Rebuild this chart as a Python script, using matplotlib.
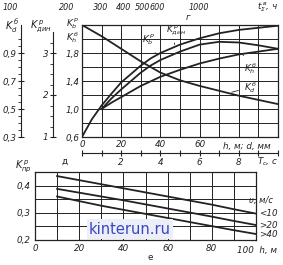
import matplotlib
matplotlib.use("Agg")
import matplotlib.pyplot as plt
from matplotlib.ticker import NullLocator
from matplotlib import font_manager

####> DATA <####
# panel "г": coefficients vs depth h (m) / diameter d (mm)
h_kd = [0, 10, 20, 30, 40, 50, 60, 70, 80, 90, 100]
kd_b = [1.10, 1.02, 0.93, 0.84, 0.76, 0.705, 0.665, 0.63, 0.595, 0.565, 0.535]          # K_d^б (left scale)

h_kdyn = [0, 5, 10, 15, 20, 25, 30, 35, 40, 50, 60, 70, 80, 90, 100]
kdyn_p = [1.0, 1.42, 1.75, 2.03, 2.3, 2.5, 2.7, 2.87, 3.0, 3.2, 3.35, 3.47, 3.55, 3.6, 3.65]  # K_дин^р

h_kb = [10, 15, 20, 25, 30, 35, 40, 50, 60, 70, 80, 90, 100]
kb_p = [1.0, 1.15, 1.28, 1.40, 1.52, 1.62, 1.70, 1.82, 1.92, 1.96, 1.95, 1.91, 1.86]        # K_b^р

h_kh = [10, 15, 20, 30, 40, 50, 60, 70, 80, 90, 100]
kh_b = [1.0, 1.09, 1.17, 1.33, 1.46, 1.56, 1.65, 1.72, 1.78, 1.82, 1.86]                   # K_h^б

# top scale, t_Σ^в, hours
t_ticks = [100, 200, 300, 400, 500, 600, 1000]

# panel "е": K_пр^р vs h for wind speeds
h_pr = [10, 20, 30, 40, 50, 60, 70, 80, 90, 100]
kpr_lt10 = [0.435, 0.420, 0.405, 0.39, 0.375, 0.36, 0.345, 0.33, 0.313, 0.297]
kpr_gt20 = [0.388, 0.374, 0.36, 0.346, 0.331, 0.316, 0.301, 0.286, 0.27, 0.255]
kpr_gt40 = [0.36, 0.343, 0.326, 0.311, 0.296, 0.281, 0.266, 0.251, 0.236, 0.222]
v_labels = ["<10", ">20", ">40"]

####> STYLE <####
W, H = 283, 265
INK = "#222222"
FS = 6.3
names = {f.name for f in font_manager.fontManager.ttflist}
fam = ["Liberation Sans Narrow", "DejaVu Sans"] if "Liberation Sans Narrow" in names else ["DejaVu Sans"]
plt.rcParams["font.family"] = fam
plt.rcParams["font.style"] = "italic"
plt.rcParams["font.size"] = FS
plt.rcParams["mathtext.fontset"] = "dejavusans"
plt.rcParams["text.color"] = INK
plt.rcParams["xtick.color"] = INK
plt.rcParams["ytick.color"] = INK


def box(l, t, r, b):
    return [l / W, (H - b) / H, (r - l) / W, (b - t) / H]


def comma(v):
    return ("%.1f" % v).replace(".", ",")


fig = plt.figure(figsize=(W / 100, H / 100), dpi=100)
fig.patch.set_facecolor("white")

####> PANEL г <####
ax1 = fig.add_axes(box(82, 25, 278, 137))
ax1.set_xlim(0, 100)
ax1.set_ylim(0.6, 2.2)
ax1.set_xticks(range(0, 101, 10))
ax1.set_xticklabels(["0", "", "20", "", "40", "", "60", "", "", "", ""])
yt = [0.6 + 0.2 * i for i in range(9)]
ax1.set_yticks(yt)
ax1.set_yticklabels([comma(v) if i % 2 == 0 and v < 2.0 else "" for i, v in enumerate(yt)])
ax1.tick_params(length=0, pad=2, labelsize=FS)
ax1.grid(True, color=INK, lw=0.7)
for s in ax1.spines.values():
    s.set_color(INK)
    s.set_linewidth(0.9)

ax1.plot(h_kb, kb_p, color=INK, lw=1.3)
ax1.plot(h_kh, kh_b, color=INK, lw=1.3)

# K_d^б scale on the far left
axd = ax1.twinx()
axd.set_ylim(0.3, 1.1)
for k in ["top", "right", "bottom"]:
    axd.spines[k].set_visible(False)
axd.spines["left"].set_visible(True)
axd.spines["left"].set_position(("axes", -0.31))
axd.spines["left"].set_color(INK)
axd.yaxis.tick_left()
axd.set_yticks([0.3, 0.5, 0.7, 0.9])
axd.set_yticklabels(["0,3", "0,5", "0,7", "0,9"])
axd.set_yticks([0.35, 0.4, 0.45, 0.55, 0.6, 0.65, 0.75, 0.8, 0.85, 0.95, 1.0], minor=True)
axd.tick_params(which="major", direction="inout", length=5, pad=1, labelsize=FS)
axd.tick_params(which="minor", direction="out", length=2)
axd.plot(h_kd, kd_b, color=INK, lw=1.3, clip_on=True)

# K_дин^р scale
axv = ax1.twinx()
axv.set_ylim(1.0, 1.0 + 1.6 / 0.6)
for k in ["top", "right", "bottom"]:
    axv.spines[k].set_visible(False)
axv.spines["left"].set_visible(True)
axv.spines["left"].set_position(("axes", -0.148))
axv.spines["left"].set_bounds(1.0, 3.5)
axv.spines["left"].set_color(INK)
axv.yaxis.tick_left()
axv.set_yticks([1, 2, 3])
axv.set_yticklabels(["1", "2", "3"])
axv.set_yticks([1.25, 1.5, 1.75, 2.25, 2.5, 2.75, 3.25], minor=True)
axv.tick_params(which="major", direction="inout", length=5, pad=1, labelsize=FS)
axv.tick_params(which="minor", direction="out", length=2)
axv.plot(h_kdyn, kdyn_p, color=INK, lw=1.3)

# T_c scale under panel г
sec = ax1.secondary_xaxis(-0.143, functions=(lambda x: x / 10, lambda x: x * 10))
sec.set_xticks(range(0, 11))
sec.set_xticklabels(["", "", "2", "", "4", "", "6", "", "8", "", ""])
sec.tick_params(direction="inout", length=5, pad=1, labelsize=FS)
sec.spines["bottom"].set_color(INK)

# top log scale of hours
axt = fig.add_axes(box(0, 13, W, 14))
axt.set_xscale("log")
axt.set_xlim(88.5, 2780)
axt.set_xticks(t_ticks)
axt.set_xticklabels([str(t) for t in t_ticks])
axt.xaxis.set_minor_locator(NullLocator())
axt.set_yticks([])
axt.tick_params(top=True, labeltop=True, bottom=False, labelbottom=False, length=0, pad=1, labelsize=5.8)
for s in axt.spines.values():
    s.set_visible(False)
axt.patch.set_alpha(0)

# texts of panel г
fig.text(268 / W, 1 - 7 / H, r"$t^{\,в}_{\Sigma}$, ч", ha="center", va="center", fontsize=FS)
fig.text(188 / W, 1 - 17 / H, "г", ha="center", va="center", fontsize=FS)
fig.text(12 / W, 1 - 26 / H, r"$K^{\,б}_{d}$", ha="center", va="center", fontsize=7)
fig.text(41 / W, 1 - 26 / H, r"$K^{\,р}_{дин}$", ha="center", va="center", fontsize=7)
fig.text(73 / W, 1 - 24 / H, r"$K^{\,р}_{b}$", ha="center", va="center", fontsize=6.5)
fig.text(73 / W, 1 - 38 / H, r"$K^{\,б}_{h}$", ha="center", va="center", fontsize=6.5)
fig.text(247 / W, 1 - 146 / H, "h, м; d, мм", ha="center", va="center", fontsize=FS)
fig.text(268 / W, 1 - 162 / H, r"$T_c$, c", ha="center", va="center", fontsize=FS)

ax1.annotate(r"$K^{\,р}_{b}$", xy=(38, 1.77), xytext=(34, 1.99), fontsize=6.5,
             ha="center", va="center", arrowprops=dict(arrowstyle="-", color=INK, lw=0.6))
ax1.annotate(r"$K^{\,р}_{дин}$", xy=(47, 1.88), xytext=(48, 2.12), fontsize=6.5,
             ha="center", va="center", arrowprops=dict(arrowstyle="-", color=INK, lw=0.6))
ax1.annotate(r"$K^{\,б}_{h}$", xy=(82, 1.78), xytext=(86, 1.58), fontsize=6.5,
             ha="center", va="center", arrowprops=dict(arrowstyle="-", color=INK, lw=0.6))
axd.annotate(r"$K^{\,б}_{d}$", xy=(75, 0.615), xytext=(86, 0.655), fontsize=6.5,
             ha="center", va="center", arrowprops=dict(arrowstyle="-", color=INK, lw=0.6))

####> PANEL е <####
ax2 = fig.add_axes(box(35, 172, 256, 240))
ax2.set_xlim(0, 100)
ax2.set_ylim(0.2, 0.45)
ax2.set_xticks(range(0, 101, 10))
ax2.set_xticklabels(["0", "", "20", "", "40", "", "60", "", "80", "", ""])
ax2.set_yticks([0.2, 0.25, 0.3, 0.35, 0.4, 0.45])
ax2.set_yticklabels(["0,2", "", "0,3", "", "0,4", ""])
ax2.tick_params(length=0, pad=3, labelsize=FS)
ax2.grid(True, color=INK, lw=0.7)
for s in ax2.spines.values():
    s.set_color(INK)
    s.set_linewidth(0.9)

for vals, lab in zip([kpr_lt10, kpr_gt20, kpr_gt40], v_labels):
    ax2.plot(h_pr, vals, color=INK, lw=1.3)
    ax2.text(101.5, vals[-1], lab, fontsize=FS, ha="left", va="center")
ax2.text(97, 0.347, "υ, м/с", fontsize=6, ha="left", va="center")

fig.text(23 / W, 1 - 166 / H, r"$K^{\,р}_{пр}$", ha="center", va="center", fontsize=7)
fig.text(65 / W, 1 - 161 / H, "д", ha="center", va="center", fontsize=FS, style="normal")
fig.text(257 / W, 1 - 250 / H, "100  h, м", ha="center", va="center", fontsize=FS)
fig.text(150 / W, 1 - 258 / H, "е", ha="center", va="center", fontsize=FS, style="normal")

# watermark of the scan
fig.text(130 / W, 1 - 229 / H, "kinterun.ru", ha="center", va="center", fontsize=10.5,
         style="normal", family="DejaVu Sans", color="#3a46c4",
         bbox=dict(boxstyle="square,pad=0.15", fc="#eceef8", ec="none"))

fig.savefig("out.png", dpi=100, facecolor="white")
